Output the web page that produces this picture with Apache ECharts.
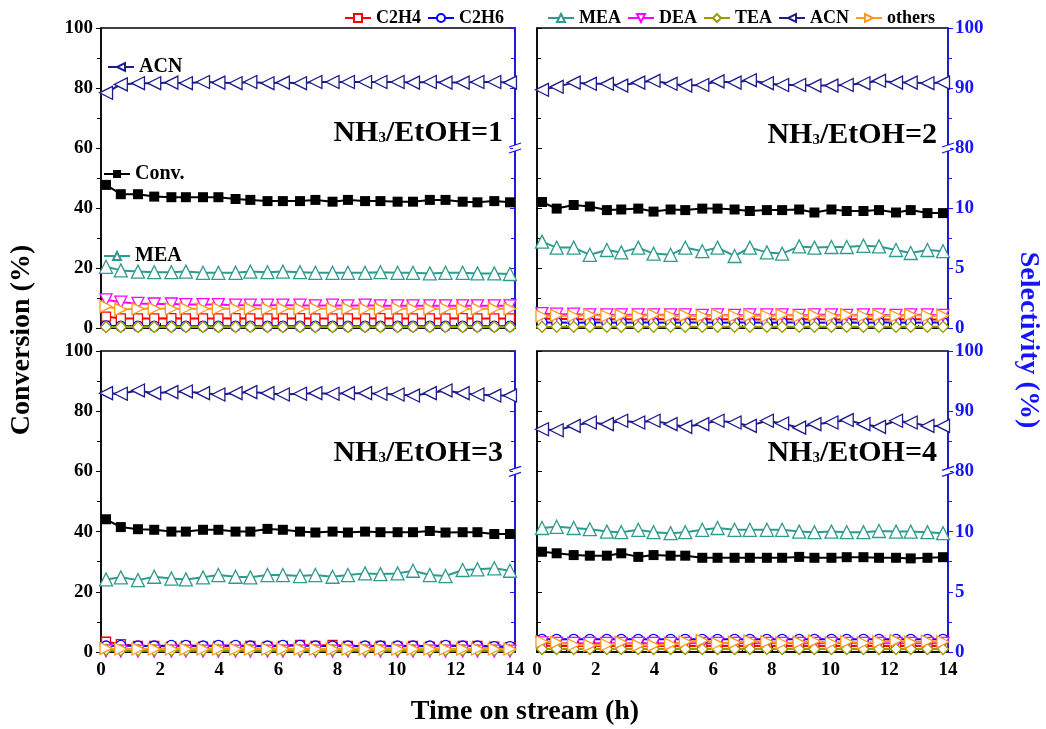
<!DOCTYPE html>
<html><head><meta charset="utf-8">
<script src="https://cdn.jsdelivr.net/npm/echarts@6/dist/echarts.min.js"></script>
<style>html,body{margin:0;padding:0;background:#fff}#c{width:1046px;height:729px}</style>
</head><body><div id="c"></div>
<script>
// ---- data (time on stream, h) ----
const time = [0.17,0.67,1.25,1.8,2.38,2.87,3.45,3.97,4.55,5.05,5.63,6.15,6.73,7.25,7.83,8.35,8.93,9.45,10.03,10.55,11.12,11.65,12.23,12.73,13.3,13.83];
const ratioLabels = ['1','2','3','4'];
const rightTickLabels = {0:'0',20:'5',40:'10',60:'80',80:'90',100:'100'};

// NH3/EtOH = 1  (conversion %, selectivities %)
const conv1  = [47.7,44.6,44.6,43.8,43.6,43.6,43.6,43.6,43.0,42.7,42.3,42.3,42.3,42.7,42.1,42.7,42.3,42.3,42.1,42.1,42.7,42.7,42.1,41.9,42.3,41.9];
const c2h4_1 = [0.95,0.8,0.8,0.8,0.82,0.8,0.8,0.8,0.82,0.8,0.8,0.8,0.82,0.8,0.8,0.8,0.8,0.82,0.8,0.8,0.8,0.8,0.82,0.8,0.8,0.8];
const c2h6_1 = [0.18,0.15,0.15,0.15,0.15,0.15,0.15,0.15,0.15,0.15,0.15,0.15,0.15,0.15,0.15,0.15,0.15,0.15,0.15,0.15,0.15,0.15,0.15,0.15,0.15,0.15];
const mea1   = [5.1,4.8,4.7,4.65,4.65,4.7,4.6,4.6,4.6,4.7,4.65,4.7,4.65,4.6,4.6,4.6,4.6,4.65,4.6,4.6,4.55,4.6,4.6,4.55,4.55,4.5];
const dea1   = [2.35,2.15,2.05,2.0,2.0,1.95,1.95,1.95,1.9,1.9,1.9,1.9,1.9,1.85,1.9,1.85,1.9,1.85,1.85,1.85,1.85,1.85,1.85,1.85,1.85,1.85];
const tea1   = [0.08,0.08,0.08,0.08,0.08,0.08,0.08,0.08,0.08,0.08,0.08,0.08,0.08,0.08,0.08,0.08,0.08,0.08,0.08,0.08,0.08,0.08,0.08,0.08,0.08,0.08];
const acn1   = [89.2,90.6,90.8,90.8,90.9,90.8,91.0,90.9,90.8,91.0,90.8,90.9,90.8,91.0,91.0,91.0,91.0,91.0,91.0,90.9,91.0,90.9,90.9,91.0,91.0,90.9];
const oth1   = [1.8,1.55,1.6,1.62,1.6,1.62,1.6,1.62,1.6,1.62,1.6,1.62,1.6,1.62,1.6,1.62,1.6,1.6,1.62,1.6,1.6,1.62,1.6,1.6,1.62,1.6];

// NH3/EtOH = 2
const conv2  = [42.0,39.8,41.0,40.5,39.3,39.5,39.8,38.8,39.5,39.3,39.8,39.8,39.5,39.0,39.3,39.3,39.5,38.5,39.5,39.0,39.0,39.3,38.5,39.3,38.3,38.3];
const c2h4_2 = [0.8,0.75,0.75,0.7,0.7,0.75,0.7,0.75,0.7,0.7,0.75,0.7,0.75,0.7,0.7,0.75,0.7,0.75,0.7,0.7,0.75,0.7,0.7,0.75,0.7,0.7];
const c2h6_2 = [0.45,0.45,0.43,0.45,0.45,0.43,0.45,0.45,0.43,0.45,0.45,0.43,0.45,0.45,0.43,0.45,0.45,0.43,0.45,0.45,0.43,0.45,0.45,0.43,0.45,0.45];
const mea2   = [7.2,6.7,6.7,6.1,6.5,6.3,6.7,6.2,6.1,6.7,6.4,6.7,6.0,6.7,6.3,6.2,6.8,6.7,6.75,6.75,6.85,6.8,6.5,6.25,6.5,6.4];
const dea2   = [1.2,1.15,1.15,1.1,1.1,1.1,1.1,1.1,1.1,1.1,1.05,1.1,1.05,1.1,1.1,1.1,1.05,1.1,1.1,1.05,1.1,1.1,1.05,1.1,1.1,1.05];
const tea2   = [0.1,0.1,0.1,0.1,0.1,0.1,0.1,0.1,0.1,0.1,0.1,0.1,0.1,0.1,0.1,0.1,0.1,0.1,0.1,0.1,0.1,0.1,0.1,0.1,0.1,0.1];
const acn2   = [89.7,90.2,90.9,90.7,90.7,90.4,90.9,91.2,90.7,90.4,90.5,91.1,90.9,91.3,90.8,90.5,90.5,90.4,90.4,90.5,90.8,91.2,90.9,90.9,90.8,90.9];
const oth2   = [1.0,1.05,1.0,1.1,1.0,1.05,1.0,1.1,1.0,1.05,1.0,1.1,1.0,1.05,1.0,1.1,1.0,1.05,1.0,1.1,1.0,1.05,1.0,1.1,1.0,1.05];

// NH3/EtOH = 3
const conv3  = [44.1,41.5,40.8,40.6,40.0,40.0,40.6,40.6,40.0,40.0,40.9,40.6,40.0,39.7,40.0,39.7,40.0,39.8,39.8,39.8,40.2,39.7,39.8,39.8,39.2,39.2];
const c2h4_3 = [0.85,0.65,0.5,0.5,0.45,0.5,0.45,0.5,0.45,0.5,0.45,0.5,0.6,0.5,0.6,0.5,0.45,0.5,0.45,0.5,0.45,0.5,0.5,0.5,0.45,0.4];
const c2h6_3 = [0.5,0.55,0.5,0.5,0.55,0.55,0.5,0.55,0.55,0.5,0.5,0.55,0.55,0.5,0.5,0.5,0.5,0.5,0.5,0.5,0.5,0.55,0.5,0.5,0.45,0.45];
const mea3   = [6.03,6.2,5.97,6.25,6.1,6.03,6.2,6.39,6.25,6.2,6.39,6.39,6.31,6.39,6.25,6.39,6.53,6.47,6.53,6.75,6.39,6.31,6.81,6.87,6.95,6.75];
const dea3   = [0.1,0.08,0.08,0.08,0.08,0.08,0.08,0.08,0.08,0.08,0.08,0.08,0.08,0.08,0.08,0.08,0.08,0.08,0.08,0.08,0.08,0.08,0.08,0.08,0.08,0.08];
const tea3   = [0.18,0.15,0.15,0.15,0.15,0.15,0.15,0.15,0.15,0.15,0.15,0.15,0.15,0.15,0.15,0.15,0.15,0.15,0.15,0.15,0.15,0.15,0.15,0.15,0.15,0.15];
const acn3   = [93.0,92.9,93.45,93.0,93.17,93.28,93.0,92.78,93.0,93.17,93.0,92.78,92.9,93.0,92.9,93.0,93.0,92.9,92.78,92.6,93.0,93.45,93.0,92.78,92.6,92.6];
const oth3   = [0.3,0.25,0.25,0.25,0.25,0.25,0.25,0.25,0.25,0.25,0.25,0.25,0.25,0.25,0.25,0.25,0.25,0.25,0.25,0.25,0.25,0.25,0.25,0.25,0.25,0.25];

// NH3/EtOH = 4
const conv4  = [33.3,32.8,32.2,32.0,32.0,32.8,31.6,32.2,32.0,32.0,31.3,31.3,31.3,31.3,31.3,31.3,31.6,31.3,31.3,31.5,31.5,31.3,31.3,31.1,31.3,31.5];
const c2h4_4 = [0.55,0.5,0.5,0.5,0.5,0.5,0.5,0.5,0.5,0.5,0.5,0.5,0.5,0.5,0.5,0.5,0.5,0.5,0.5,0.5,0.5,0.5,0.5,0.5,0.5,0.5];
const c2h6_4 = [1.05,1.05,1.05,1.05,1.05,1.05,1.05,1.05,1.05,1.05,1.05,1.05,1.05,1.05,1.05,1.05,1.05,1.05,1.05,1.05,1.05,1.05,1.05,1.05,1.05,1.05];
const mea4   = [10.3,10.4,10.3,10.2,10.0,9.95,10.15,9.95,9.87,9.95,10.15,10.3,10.15,10.15,10.15,10.15,10.0,9.95,10.0,9.95,9.95,10.05,10.0,10.0,9.95,9.87];
const dea4   = [0.75,0.72,0.72,0.72,0.72,0.72,0.72,0.72,0.72,0.72,0.72,0.72,0.72,0.72,0.72,0.72,0.72,0.72,0.72,0.72,0.72,0.72,0.72,0.72,0.72,0.72];
const tea4   = [0.25,0.25,0.25,0.25,0.25,0.25,0.25,0.25,0.25,0.25,0.25,0.25,0.25,0.25,0.25,0.25,0.25,0.25,0.25,0.25,0.25,0.25,0.25,0.25,0.25,0.25];
const acn4   = [87.0,86.83,87.56,88.13,87.85,88.42,88.13,88.42,87.85,87.4,87.85,88.42,88.13,87.56,88.42,87.96,87.27,87.85,88.13,88.53,87.85,87.4,88.42,88.13,87.56,87.56];
const oth4   = [0.85,0.8,0.6,0.55,0.6,0.8,0.55,0.55,0.65,0.85,0.95,0.7,0.8,0.9,0.85,0.75,0.8,0.9,0.75,0.85,0.75,0.85,0.95,0.8,0.9,0.85];

// ---- assembly ----
const panels = [
  {conv:conv1, C2H4:c2h4_1, C2H6:c2h6_1, MEA:mea1, DEA:dea1, TEA:tea1, ACN:acn1, others:oth1},
  {conv:conv2, C2H4:c2h4_2, C2H6:c2h6_2, MEA:mea2, DEA:dea2, TEA:tea2, ACN:acn2, others:oth2},
  {conv:conv3, C2H4:c2h4_3, C2H6:c2h6_3, MEA:mea3, DEA:dea3, TEA:tea3, ACN:acn3, others:oth3},
  {conv:conv4, C2H4:c2h4_4, C2H6:c2h6_4, MEA:mea4, DEA:dea4, TEA:tea4, ACN:acn4, others:oth4}
];
const FONT = "'Times New Roman','Liberation Serif',serif";
const BLUE = '#1414ff';
const grids = [
  {left:101, top:28, width:414, height:300},
  {left:537, top:28, width:411, height:300},
  {left:101, top:351, width:414, height:301},
  {left:537, top:351, width:411, height:301}
];
const spec = [
  {name:'C2H4', color:'#ff0000', symbol:'rect', size:9},
  {name:'C2H6', color:'#0000ff', symbol:'circle', size:10},
  {name:'MEA', color:'#2f9a8e', symbol:'triangle', size:13},
  {name:'DEA', color:'#ff00ff', symbol:'path://M0,0L10,0L5,9Z', size:12},
  {name:'TEA', color:'#9c9c00', symbol:'diamond', size:11},
  {name:'ACN', color:'#1c1c8c', symbol:'path://M9,0L9,10L0,5Z', size:13},
  {name:'others', color:'#ff9a1a', symbol:'path://M0,0L9,5L0,10Z', size:12}
];
// broken selectivity axis: 0-15 % on lower 60 % of height, 80-100 % on upper 40 %
function selToAxis(s){ return s <= 15 ? s*4 : 60 + (s-80)*2; }

const xAxis = [], yAxis = [], series = [];
grids.forEach((g,i) => {
  xAxis.push({gridIndex:i, type:'value', min:0, max:14, interval:2,
    axisLine:{lineStyle:{color:'#000', width:1.5}},
    axisTick:{inside:true, length:5, lineStyle:{color:'#000'}},
    minorTick:{show:true, splitNumber:2, length:3, lineStyle:{color:'#000'}},
    splitLine:{show:false},
    axisLabel:{show:i>=2, color:'#000', fontFamily:FONT, fontWeight:'bold', fontSize:19, margin:9}});
  yAxis.push({gridIndex:i, type:'value', min:0, max:100, interval:20, position:'left',
    axisLine:{show:true, lineStyle:{color:'#000', width:1.5}},
    axisTick:{show:true, inside:i%2===1, length:5, lineStyle:{color:'#000'}},
    minorTick:{show:true, splitNumber:2, length:4, lineStyle:{color:'#000'}},
    splitLine:{show:false},
    axisLabel:{show:i%2===0, color:'#000', fontFamily:FONT, fontWeight:'bold', fontSize:19, margin:8}});
  yAxis.push({gridIndex:i, type:'value', min:0, max:100, interval:20, position:'right',
    axisLine:{show:true, lineStyle:{color:BLUE, width:1.5}},
    axisTick:{show:true, inside:i%2===0, length:5, lineStyle:{color:BLUE}},
    minorTick:{show:true, splitNumber:2, length:4, lineStyle:{color:BLUE}},
    splitLine:{show:false},
    axisLabel:{show:i%2===1, color:BLUE, fontFamily:FONT, fontWeight:'bold', fontSize:19, margin:7,
      formatter:v => rightTickLabels[v] !== undefined ? rightTickLabels[v] : ''}});
  const p = panels[i];
  spec.forEach(s => {
    series.push({name:s.name, type:'line', xAxisIndex:i, yAxisIndex:2*i+1,
      data: time.map((t,k) => [t, selToAxis(p[s.name][k])]),
      symbol:s.symbol, symbolSize:s.size, showSymbol:true,
      lineStyle:{color:s.color, width:2},
      itemStyle:{color:'#fff', borderColor:s.color, borderWidth:1.3},
      animation:false, z:2});
  });
  series.push({name:'Conv.', type:'line', xAxisIndex:i, yAxisIndex:2*i,
    data: time.map((t,k) => [t, p.conv[k]]),
    symbol:'rect', symbolSize:10, lineStyle:{color:'#000', width:2},
    itemStyle:{color:'#000'}, animation:false, z:3});
});

const legendText = {color:'#000', fontFamily:FONT, fontWeight:'bold', fontSize:18};
const legBase = {orient:'horizontal', itemWidth:26, itemHeight:10, itemGap:6, padding:0, selectedMode:false, textStyle:legendText};
const legend = [
  Object.assign({}, legBase, {data:['C2H4','C2H6'], left:344, top:9}),
  Object.assign({}, legBase, {data:['MEA','DEA','TEA','ACN','others'], left:547, top:9}),
  Object.assign({}, legBase, {data:['ACN'], left:107, top:57, textStyle:Object.assign({}, legendText, {fontSize:20})}),
  Object.assign({}, legBase, {data:['Conv.'], left:103, top:164, textStyle:Object.assign({}, legendText, {fontSize:20})}),
  Object.assign({}, legBase, {data:['MEA'], left:103, top:246, textStyle:Object.assign({}, legendText, {fontSize:20})})
];

const graphic = [];
const ratioPos = [[503,133],[937,135],[503,453],[937,453]];
ratioPos.forEach((pos,i) => {
  graphic.push({type:'text', x:pos[0], y:pos[1], z:10,
    style:{text:'{a|NH}{b|3}{a|/EtOH=' + ratioLabels[i] + '}', align:'right', verticalAlign:'middle',
      rich:{a:{fontFamily:FONT, fontWeight:'bold', fontSize:30, fill:'#000', verticalAlign:'bottom'},
            b:{fontFamily:FONT, fontWeight:'bold', fontSize:15, fill:'#000', verticalAlign:'bottom', padding:[0,0,2,0]}}}});
});
grids.forEach(g => {
  const x = g.left + g.width, y = g.top + g.height*0.4;
  graphic.push({type:'rect', shape:{x:x-2, y:y-3, width:4, height:6}, style:{fill:'#fff'}, z:20});
  graphic.push({type:'line', shape:{x1:x-6, y1:y-1, x2:x+6, y2:y-5}, style:{stroke:BLUE, lineWidth:1.3}, z:21});
  graphic.push({type:'line', shape:{x1:x-6, y1:y+5, x2:x+6, y2:y+1}, style:{stroke:BLUE, lineWidth:1.3}, z:21});
});
graphic.push({type:'text', x:22, y:340, rotation:Math.PI/2, z:10,
  style:{text:'Conversion (%)', align:'center', verticalAlign:'middle', fontFamily:FONT, fontWeight:'bold', fontSize:28, fill:'#000'}});
graphic.push({type:'text', x:1028, y:340, rotation:-Math.PI/2, z:10,
  style:{text:'Selectivity (%)', align:'center', verticalAlign:'middle', fontFamily:FONT, fontWeight:'bold', fontSize:28, fill:BLUE}});
graphic.push({type:'text', x:525, y:712, z:10,
  style:{text:'Time on stream (h)', align:'center', verticalAlign:'middle', fontFamily:FONT, fontWeight:'bold', fontSize:28, fill:'#000'}});

const chart = echarts.init(document.getElementById('c'), null, {renderer:'canvas'});
chart.setOption({
  animation:false,
  backgroundColor:'#fff',
  grid: grids.map(g => Object.assign({show:true, borderColor:'#000', borderWidth:1.5, backgroundColor:'transparent'}, g)),
  xAxis, yAxis, series, legend, graphic
});
</script></body></html>
